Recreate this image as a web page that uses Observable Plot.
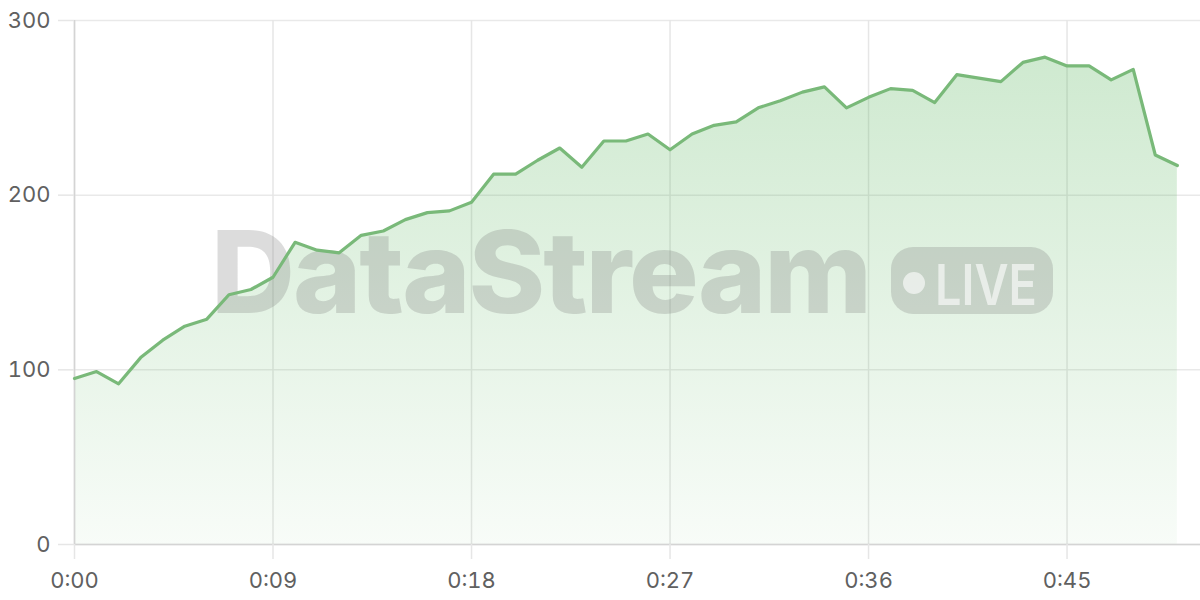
<!DOCTYPE html>
<html>
<head>
<meta charset="utf-8">
<script src="https://cdn.jsdelivr.net/npm/d3@7"></script>
<script src="https://cdn.jsdelivr.net/npm/@observablehq/plot@0.6"></script>
<style>
  html, body { margin: 0; padding: 0; background: #fff; }
  #chart { width: 1200px; height: 600px; }
</style>
</head>
<body>
<div id="chart"></div>
<script>
const seconds = d3.range(0, 51);
const values = [95,99,92,107,117,125,129,143,146,153,173,168.5,167,177,179.5,186,190,191,196,212,212,220,227,216,231,231,235,226,235,240,242,250,254,259,262,250,256,261,260,253,269,267,265,276,279,274,274,266,272,223,217];
const xTicks = [0, 9, 18, 27, 36, 45];
const yTicks = [0, 100, 200, 300];
const watermarkText = "DataStream";
const badgeText = "LIVE";

const data = seconds.map((s, i) => ({s, v: values[i]}));
const fmt = d => `${Math.floor(d / 60)}:${String(d % 60).padStart(2, "0")}`;

function gradientDefs() {
  const defs = d3.create("svg:defs");
  const g = defs.append("linearGradient").attr("id", "areaGrad")
    .attr("x1", 0).attr("y1", 0).attr("x2", 0).attr("y2", 1);
  g.append("stop").attr("offset", "0%").attr("stop-color", "#4caf50").attr("stop-opacity", 0.27);
  g.append("stop").attr("offset", "100%").attr("stop-color", "#4caf50").attr("stop-opacity", 0.04);
  return defs.node();
}

function watermark(index, scales, values, dims) {
  const g = d3.create("svg:g").attr("pointer-events", "none").attr("text-anchor", "start");
  const fillC = "rgba(120,120,120,0.26)";
  g.append("text")
    .attr("x", 211).attr("y", 313)
    .attr("text-anchor", "start")
    .attr("font-family", "Inter, 'Noto Sans', sans-serif")
    .attr("font-weight", 800)
    .attr("font-size", 114)
    .attr("letter-spacing", -2)
    .attr("textLength", 659)
    .attr("lengthAdjust", "spacingAndGlyphs")
    .attr("fill", fillC)
    .text(watermarkText);
  g.append("rect")
    .attr("x", 891).attr("y", 247).attr("width", 162).attr("height", 67)
    .attr("rx", 22).attr("fill", fillC);
  g.append("circle").attr("cx", 914).attr("cy", 283).attr("r", 11)
    .attr("fill", "rgba(255,255,255,0.6)");
  g.append("text")
    .attr("x", 935).attr("y", 305)
    .attr("text-anchor", "start")
    .attr("font-family", "Inter, 'Noto Sans', sans-serif")
    .attr("font-weight", 600)
    .attr("font-size", 56)
    .attr("textLength", 102)
    .attr("lengthAdjust", "spacingAndGlyphs")
    .attr("fill", "rgba(255,255,255,0.6)")
    .text(badgeText);
  return g.node();
}

const chart = Plot.plot({
  width: 1200,
  height: 600,
  marginLeft: 74,
  marginRight: 0,
  marginTop: 20,
  marginBottom: 56,
  style: {fontFamily: "Inter, 'Noto Sans', sans-serif", fontSize: "22px", color: "#666", background: "#fff"},
  x: {domain: [0, 51.05], ticks: xTicks, tickFormat: fmt},
  y: {domain: [0, 300], ticks: yTicks},
  marks: [
    gradientDefs,
    Plot.gridY(yTicks, {stroke: "#e9e9e9", strokeOpacity: 1, strokeWidth: 1.5}),
    Plot.gridX(xTicks, {stroke: "#e6e6e6", strokeOpacity: 1, strokeWidth: 1.5}),
    Plot.areaY(data, {x: "s", y: "v", fill: "url(#areaGrad)"}),
    watermark,
    Plot.ruleX([0], {stroke: "#d4d4d4", strokeWidth: 1.5}),
    Plot.ruleY([0], {stroke: "#d4d4d4", strokeWidth: 1.5}),
    Plot.lineY(data, {x: "s", y: "v", stroke: "#79b979", strokeWidth: 3.2, strokeLinejoin: "round", strokeLinecap: "round"}),
    Plot.axisY(yTicks, {tickSize: 16, tickPadding: 8, stroke: "#e6e6e6", strokeWidth: 1.5, fill: "#606060", label: null}),
    Plot.axisX(xTicks, {tickSize: 15, tickPadding: 13, stroke: "#e6e6e6", strokeWidth: 1.5, fill: "#606060", label: null, tickFormat: fmt})
  ]
});
document.getElementById("chart").appendChild(chart);
</script>
</body>
</html>
